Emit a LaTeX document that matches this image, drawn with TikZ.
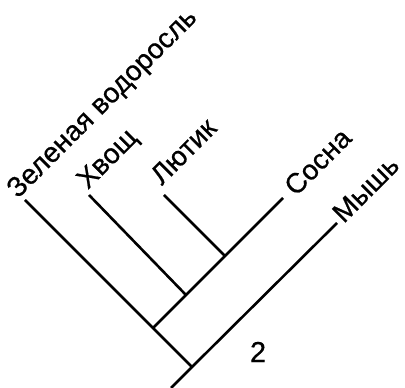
\documentclass[tikz,border=0pt]{standalone}
\usepackage{fontspec}
\setmainfont{Liberation Sans}[FakeBold=0.6]
\begin{document}
\begin{tikzpicture}[x=1pt,y=1pt,line width=2.6pt,
    taxon/.style={rotate=45,anchor=base west,inner sep=0pt,
      font=\fontsize{28}{33}\selectfont}]
  \useasboundingbox (0,0) rectangle (405,388);

  % Branch points and tips of the tree.
  \coordinate (base) at (171,0);
  \coordinate (root) at (192,21);
  \coordinate (splitA) at (153,60);
  \coordinate (splitB) at (186,93);
  \coordinate (splitC) at (225,132);
  \coordinate (algaTip) at (25,188);
  \coordinate (horsetailTip) at (89,193);
  \coordinate (buttercupTip) at (164,193);
  \coordinate (pineTip) at (283,190);
  \coordinate (mouseTip) at (337,165);

  % Branches.
  \draw (base) -- (root) -- (mouseTip);
  \draw (root) -- (algaTip);
  \draw (splitA) -- (pineTip);
  \draw (splitB) -- (horsetailTip);
  \draw (splitC) -- (buttercupTip);

  % Taxon names along the tips.
  \node[taxon] (algaLabel) at (17,188) {Зеленая водоросль};
  \node[taxon] (horsetailLabel) at (87,197) {Хвощ};
  \node[taxon] (buttercupLabel) at (161,201) {Лютик};
  \node[taxon] (pineLabel) at (295,190) {Сосна};
  \node[taxon] (mouseLabel) at (343,163) {Мышь};

  \node[font=\fontsize{29}{34}\selectfont] (cladeNum) at (258,36) {2};
\end{tikzpicture}
\end{document}
